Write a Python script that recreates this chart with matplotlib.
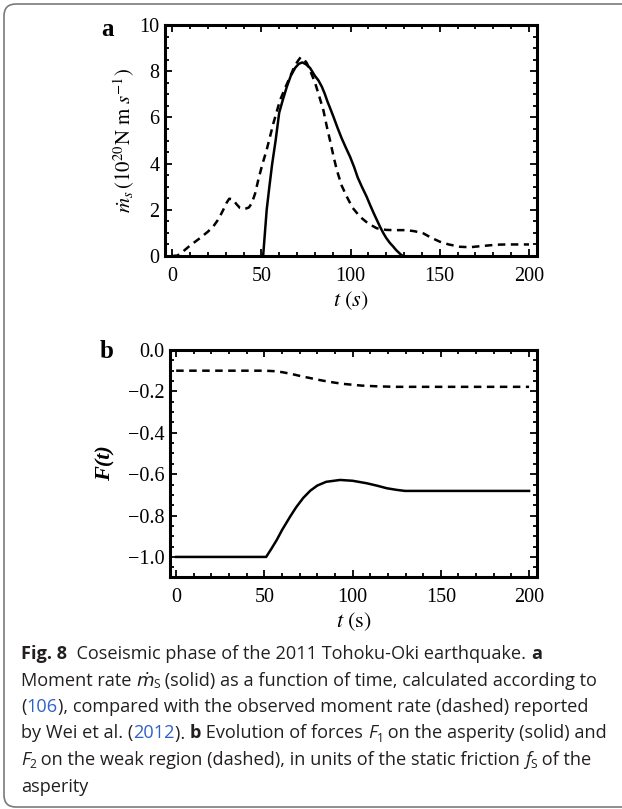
import matplotlib
matplotlib.use('Agg')
import matplotlib.pyplot as plt
from matplotlib.patches import FancyBboxPatch
from matplotlib.ticker import MultipleLocator
from matplotlib.transforms import IdentityTransform

# panel a: moment rate (10^20 N m/s)
t_model = [51, 52, 53, 54.5, 56, 58, 60, 62, 64.3, 66.5, 69, 71, 73, 75, 77.3, 80, 82,
           83.9, 85.5, 87, 88.7, 90.4, 92.7, 95, 97.3, 99.7, 102, 104, 106.5, 109, 111, 113,
           114.8, 116.5, 118.3, 120, 122, 124, 125.5, 127, 128.2, 129.4]
m_model = [0, 1.0, 2.0, 3.0, 3.95, 5.0, 6.2, 6.75, 7.33, 7.8, 8.15, 8.32, 8.38, 8.3, 8.14,
           7.8, 7.6, 7.33, 7.03, 6.7, 6.37, 6.03, 5.55, 5.1, 4.7, 4.3, 3.85, 3.4, 2.97, 2.57,
           2.2, 1.85, 1.55, 1.27, 1.0, 0.78, 0.57, 0.4, 0.26, 0.15, 0.06, 0]

t_obs = [0, 3, 5.4, 10, 15.7, 20, 23, 26, 28.6, 30.5, 32, 34, 36, 38, 40.5, 43, 44.6, 46.5,
         48.3, 50.5, 53, 56.8, 60.5, 63.5, 66.1, 68.5, 70.8, 72, 73.5, 75.5, 77.5, 80.1, 82.5,
         84.8, 86.7, 88.5, 90.5, 92.3, 95, 97.9, 101, 105.3, 110, 114.7, 120, 124, 131.5, 136,
         140.8, 145, 150, 155, 161.3, 167, 172, 176.3, 182, 187.5, 195, 200]
m_obs = [0, 0.02, 0.15, 0.45, 0.78, 1.05, 1.27, 1.6, 1.99, 2.3, 2.48, 2.45, 2.25, 2.08, 2.03,
         2.1, 2.28, 2.7, 3.3, 3.95, 4.6, 5.76, 6.75, 7.3, 7.76, 8.2, 8.48, 8.6, 8.55, 8.35, 8.0,
         7.5, 6.9, 6.3, 5.6, 5.0, 4.3, 3.72, 3.05, 2.57, 2.1, 1.7, 1.4, 1.2, 1.13, 1.12, 1.12,
         1.07, 0.98, 0.8, 0.62, 0.5, 0.4, 0.38, 0.42, 0.45, 0.49, 0.5, 0.5, 0.5]

# panel b: forces in units of f_s
t_f1 = [0, 51, 54, 57, 60, 64.6, 68, 72, 76, 80, 85, 92.9, 100, 108, 114, 119.3, 125, 129.7, 200]
f1 = [-1, -1, -0.96, -0.918, -0.87, -0.805, -0.76, -0.715, -0.68, -0.655, -0.637, -0.628,
      -0.632, -0.644, -0.656, -0.668, -0.676, -0.681, -0.681]
t_f2 = [0, 50, 55, 60, 65, 70, 75, 80, 85, 90, 95, 100, 105, 110, 115, 120, 125, 130, 200]
f2 = [-0.1, -0.1, -0.102, -0.107, -0.115, -0.125, -0.134, -0.143, -0.151, -0.158, -0.164,
      -0.168, -0.172, -0.174, -0.176, -0.177, -0.178, -0.178, -0.178]

plt.rcParams['font.family'] = ['Liberation Serif', 'DejaVu Serif']
plt.rcParams['mathtext.fontset'] = 'stix'

W, H = 622, 809
fig = plt.figure(figsize=(W / 100, H / 100), dpi=100)


def px_axes(l, t, r, b):
    return fig.add_axes([l / W, 1 - b / H, (r - l) / W, (b - t) / H])


def style_axes(ax, ymaj, ymin):
    for s in ax.spines.values():
        s.set_linewidth(2.2)
    ax.xaxis.set_major_locator(MultipleLocator(50))
    ax.xaxis.set_minor_locator(MultipleLocator(10))
    ax.yaxis.set_major_locator(MultipleLocator(ymaj))
    ax.yaxis.set_minor_locator(MultipleLocator(ymin))
    ax.tick_params(which='both', direction='in', top=True, right=True, width=1.3)
    ax.tick_params(which='major', length=5, labelsize=14.5)
    ax.tick_params(which='minor', length=3)
    ax.tick_params(axis='x', pad=8)
    ax.tick_params(axis='y', pad=4)


dash = (3, 2.2)

ax_a = px_axes(165, 25, 537, 256)
ax_a.plot(t_model, m_model, color='black', lw=1.8)
ax_a.plot(t_obs, m_obs, color='black', lw=1.8, dashes=dash)
ax_a.set_xlim(-4, 204.5)
ax_a.set_ylim(0, 10)
style_axes(ax_a, 2, 0.5)
ax_a.set_xlabel(r'$t\ (s)$', fontsize=16, labelpad=2)
ax_a.set_ylabel(r'$\dot{m}_s\,(10^{20}\mathrm{N\ m}\ s^{-1})$', fontsize=15, labelpad=2)
fig.text(107 / W, 1 - 29 / H, 'a', fontsize=18, fontweight='bold', ha='center', va='center')

ax_b = px_axes(170, 350, 537, 577)
ax_b.plot(t_f1, f1, color='black', lw=1.8)
ax_b.plot(t_f2, f2, color='black', lw=1.8, dashes=dash)
ax_b.set_xlim(-3.5, 204.5)
ax_b.set_ylim(-1.097, 0)
style_axes(ax_b, 0.2, 0.05)
ax_b.set_xlabel(r'$t\ (\mathrm{s})$', fontsize=16, labelpad=2)
ax_b.set_ylabel('F(t)', fontsize=16, fontweight='bold', fontstyle='italic', labelpad=9)
fig.text(107 / W, 1 - 352 / H, 'b', fontsize=18, fontweight='bold', ha='center', va='center')

# rounded frame around figure + caption (filled, behind everything, so no clip edge)
frame = FancyBboxPatch((4, 2), 660, 803, boxstyle='round,pad=0,rounding_size=12',
                       transform=IdentityTransform(), facecolor='white',
                       edgecolor='#7a7a7a', lw=1.2, zorder=-5)
fig.patches.append(frame)

# caption, drawn piece by piece so bold/italic/blue/subscript parts line up
cap_font = ['Open Sans', 'DejaVu Sans']
cap_size = 13.1
ink = '#231f20'
blue = '#2f62c8'
STYLES = {
    'n': dict(family=cap_font, fontsize=cap_size, color=ink),
    'b': dict(family=cap_font, fontsize=cap_size, color=ink, fontweight='bold'),
    'i': dict(family=cap_font, fontsize=cap_size, color=ink, fontstyle='italic'),
    'u': dict(family=cap_font, fontsize=cap_size, color=blue),
    's': dict(family=cap_font, fontsize=cap_size * 0.66, color=ink, dy=-3),
}

renderer = fig.canvas.get_renderer()


def seg_width(s, kw):
    t1 = fig.text(0, 0, s + '|', **kw)
    t2 = fig.text(0, 0, '|', **kw)
    w = t1.get_window_extent(renderer).width - t2.get_window_extent(renderer).width
    t1.remove()
    t2.remove()
    return w


def caption_line(x, y, segs):
    for s, st in segs:
        kw = dict(STYLES[st])
        dy = kw.pop('dy', 0)
        fig.text(x, H - y + dy, s, transform=IdentityTransform(), ha='left', va='baseline', **kw)
        x += seg_width(s, kw)


caption = [
    [('Fig. 8', 'b'), ('  Coseismic phase of the 2011 Tohoku-Oki earthquake. ', 'n'), ('a', 'b')],
    [('Moment rate ', 'n'), ('ṁ', 'i'), ('S', 's'),
     (' (solid) as a function of time, calculated according to', 'n')],
    [('(', 'n'), ('106', 'u'), ('), compared with the observed moment rate (dashed) reported', 'n')],
    [('by Wei et al. (', 'n'), ('2012', 'u'), ('). ', 'n'), ('b', 'b'),
     (' Evolution of forces ', 'n'), ('F', 'i'), ('1', 's'), (' on the asperity (solid) and', 'n')],
    [('F', 'i'), ('2', 's'),
     (' on the weak region (dashed), in units of the static friction ', 'n'),
     ('f', 'i'), ('S', 's'), (' of the', 'n')],
    [('asperity', 'n')],
]
for k, line in enumerate(caption):
    caption_line(21, 659 + k * 26.5, line)

fig.savefig('out.png', dpi=100)
